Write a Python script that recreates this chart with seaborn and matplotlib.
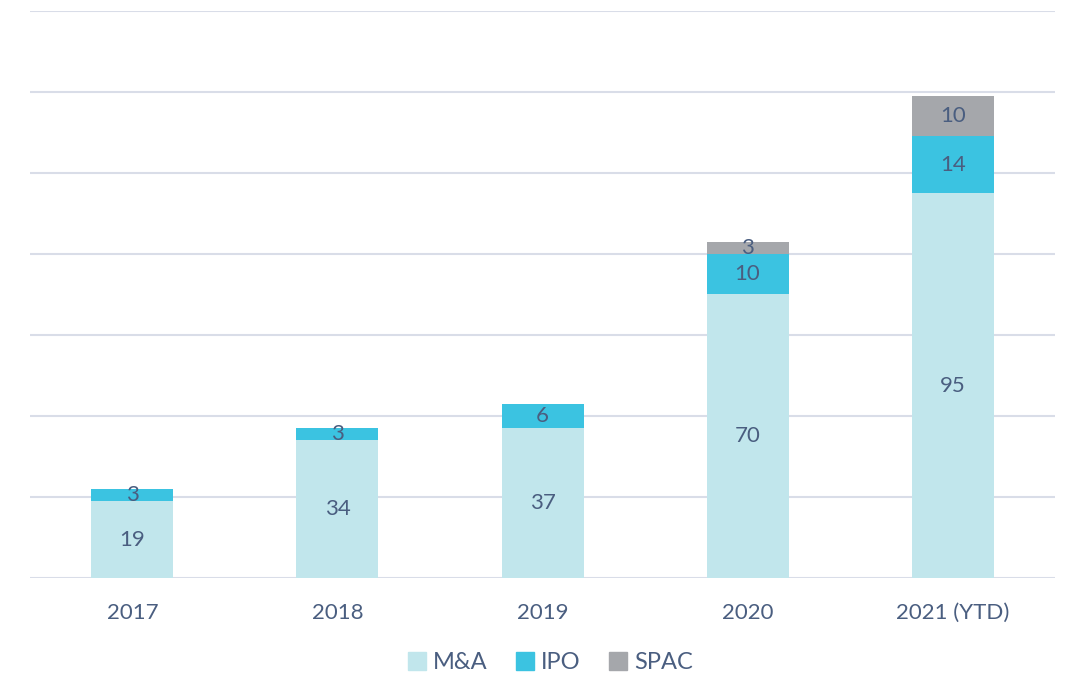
import numpy as np
import pandas as pd
import seaborn as sns
import matplotlib.pyplot as plt
from matplotlib.patches import Patch

# datos
years = ['2017', '2018', '2019', '2020', '2021 (YTD)']
mna = [19, 34, 37, 70, 95]
ipo = [3, 3, 6, 10, 14]
spac = [0, 0, 0, 3, 10]

c_mna = '#C1E6EC'
c_ipo = '#3BC3E1'
c_spac = '#A5A7AB'
txt = '#4A5E80'

sns.set_theme(style='white')
plt.rcParams['font.family'] = ['Lato', 'DejaVu Sans']

df = pd.DataFrame({'year': years, 'mna': mna, 'ipo': ipo, 'spac': spac})
df['t_ipo'] = df['mna'] + df['ipo']
df['t_spac'] = df['t_ipo'] + df['spac']

fig, ax = plt.subplots(figsize=(10.69, 6.77), dpi=100)
fig.subplots_adjust(left=0.028, right=0.987, top=0.984, bottom=0.146)

# apilado: se dibujan totales de mayor a menor
for col, c in [('t_spac', c_spac), ('t_ipo', c_ipo), ('mna', c_mna)]:
    sns.barplot(data=df, x='year', y=col, color=c, width=0.4, saturation=1,
                linewidth=0, edgecolor=c, ax=ax)

# etiquetas
fs = 16
for i, r in df.iterrows():
    ax.text(i, r['mna'] / 2, str(r['mna']), ha='center', va='center', fontsize=fs, color=txt)
    ax.text(i, r['mna'] + r['ipo'] / 2, str(r['ipo']), ha='center', va='center', fontsize=fs, color=txt)
    if r['spac'] > 0:
        ax.text(i, r['t_ipo'] + r['spac'] / 2, str(r['spac']), ha='center', va='center', fontsize=fs, color=txt)

ax.set_ylim(0, 140)
ax.set_xlim(-0.5, 4.5)
ax.set_yticks(np.arange(0, 141, 20))
ax.set_yticklabels([])
ax.yaxis.grid(True, color='#D9DDE8', linewidth=1.5)
ax.set_axisbelow(True)
ax.set_xlabel('')
ax.set_ylabel('')
ax.tick_params(axis='x', labelsize=16, labelcolor=txt, length=0, pad=18)
ax.tick_params(axis='y', length=0)
for s in ax.spines.values():
    s.set_visible(False)

handles = [Patch(color=c_mna, label='M&A'), Patch(color=c_ipo, label='IPO'), Patch(color=c_spac, label='SPAC')]
leg = fig.legend(handles=handles, loc='center', bbox_to_anchor=(0.515, 0.021), ncol=3, frameon=False,
                 fontsize=17, handlelength=0.75, handleheight=0.75, handletextpad=0.3, columnspacing=1.2)
for t in leg.get_texts():
    t.set_color(txt)

plt.savefig('out.png', dpi=100)
